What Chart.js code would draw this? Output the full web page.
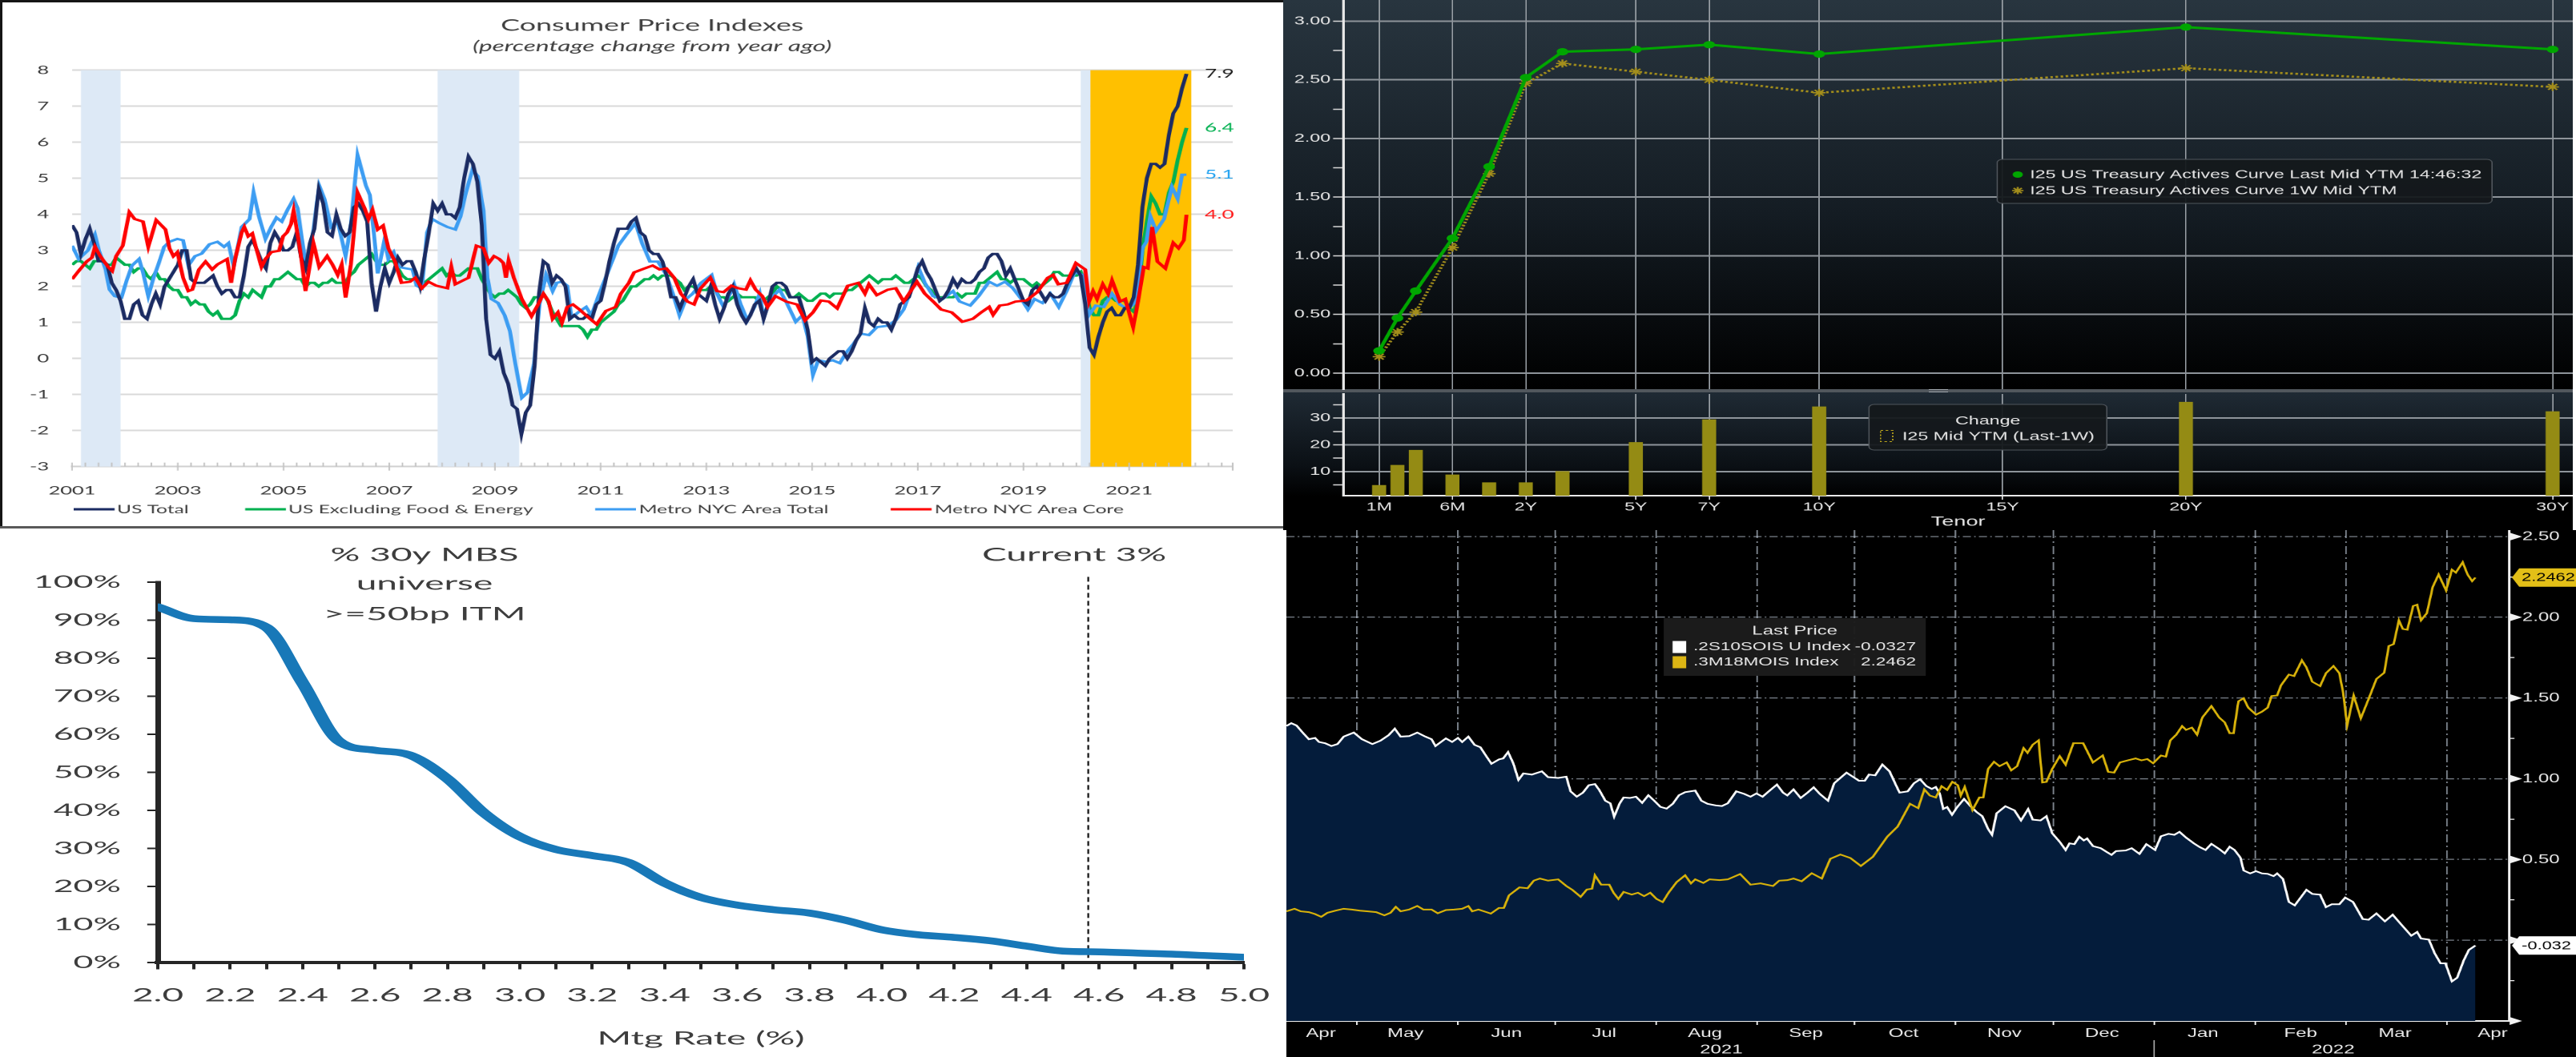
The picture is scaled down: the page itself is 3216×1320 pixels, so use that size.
<!DOCTYPE html>
<html>
<head>
<meta charset="utf-8">
<title>Inflation and rates</title>
<script src="https://cdn.jsdelivr.net/npm/chart.js@4.4.1/dist/chart.umd.min.js"></script>
<style>
  html, body { margin: 0; padding: 0; }
  body { width: 3216px; height: 1320px; position: relative; overflow: hidden; background: #fff; }
  .panel { position: absolute; overflow: hidden; }
  .panel canvas { position: absolute; display: block; }
  .bar { position: absolute; }
</style>
</head>
<body>

<!-- top left: CPI -->
<div class="panel" style="left:0;top:0;width:1602px;height:660px;background:#fff;">
  <canvas id="cpiChart" width="915" height="660" style="left:0;top:0;width:1602px;height:660px;"></canvas>
  <div class="bar" style="left:0;top:0;width:1602px;height:3px;background:#151515"></div>
  <div class="bar" style="left:0;top:0;width:3px;height:660px;background:#151515"></div>
  <div class="bar" style="left:0;top:657px;width:1602px;height:3px;background:#5a5a5a"></div>
</div>

<!-- top right: treasury curve -->
<div class="panel" style="left:1602px;top:0;width:1610px;height:662px;background:#000;">
  <div class="bar" style="left:0;top:0;width:1610px;height:486px;background:linear-gradient(#28353f 0%, #141c23 55%, #000 100%)"></div>
  <div class="bar" style="left:0;top:486px;width:1610px;height:4px;background:#51575d"></div>
  <div class="bar" style="left:806px;top:486px;width:24px;height:4px;border-top:1px solid #a0a6ac;border-bottom:1px solid #a0a6ac;box-sizing:border-box"></div>
  <div class="bar" style="left:0;top:490px;width:1610px;height:130px;background:linear-gradient(#1f2a34 0%, #0b1015 70%, #000 100%)"></div>
  <canvas id="curveChart" width="1006" height="488" style="left:0;top:0;width:1610px;height:488px;"></canvas>
  <canvas id="changeChart" width="1006" height="172" style="left:0;top:490px;width:1610px;height:172px;"></canvas>
</div>
<div class="bar" style="left:3212px;top:0;width:4px;height:662px;background:#fff"></div>

<!-- bottom left: MBS -->
<div class="panel" style="left:0;top:662px;width:1606px;height:658px;background:#fff;">
  <canvas id="mbsChart" width="803" height="658" style="left:0;top:0;width:1606px;height:658px;"></canvas>
</div>

<!-- bottom right: OIS -->
<div class="panel" style="left:1606px;top:662px;width:1610px;height:658px;background:#000;">
  <canvas id="oisChart" width="1073" height="658" style="left:0;top:0;width:1610px;height:658px;"></canvas>
</div>

<script>
// ---------------- data: CPI (percentage change from year ago) ----------------
// months counted from Jan 2001 (= 0)
const cpiYearLabels = [2001, 2003, 2005, 2007, 2009, 2011, 2013, 2015, 2017, 2019, 2021];
const cpiValueTicks = [-3, -2, -1, 0, 1, 2, 3, 4, 5, 6, 7, 8];

const usTotal = [
  3.7, 3.5, 2.9, 3.3, 3.6, 3.2, 2.7, 2.7, 2.6, 2.1, 1.9, 1.6,
  1.1, 1.1, 1.5, 1.6, 1.2, 1.1, 1.5, 1.8, 1.5, 2.0, 2.2, 2.4,
  2.6, 3.0, 3.0, 2.2, 2.1, 2.1, 2.1, 2.2, 2.3, 2.0, 1.8, 1.9,
  1.9, 1.7, 1.7, 2.3, 3.1, 3.3, 3.0, 2.7, 2.5, 3.2, 3.5, 3.3,
  3.0, 3.0, 3.1, 3.5, 2.8, 2.5, 3.2, 3.6, 4.7, 4.3, 3.5, 3.4,
  4.0, 3.6, 3.4, 3.5, 4.2, 4.3, 4.1, 3.8, 2.1, 1.3, 2.0, 2.5,
  2.1, 2.4, 2.8, 2.6, 2.7, 2.7, 2.4, 2.0, 2.8, 3.5, 4.3, 4.1,
  4.3, 4.0, 4.0, 3.9, 4.2, 5.0, 5.6, 5.4, 4.9, 3.7, 1.1, 0.1,
  0.0, 0.2, -0.4, -0.7, -1.3, -1.4, -2.1, -1.5, -1.3, -0.2, 1.8, 2.7,
  2.6, 2.1, 2.3, 2.2, 2.0, 1.1, 1.2, 1.1, 1.1, 1.2, 1.1, 1.5,
  1.6, 2.1, 2.7, 3.2, 3.6, 3.6, 3.6, 3.8, 3.9, 3.5, 3.4, 3.0,
  2.9, 2.9, 2.7, 2.3, 1.7, 1.7, 1.4, 1.7, 2.0, 2.2, 1.8, 1.7,
  1.6, 2.0, 1.5, 1.1, 1.4, 1.8, 2.0, 1.5, 1.2, 1.0, 1.2, 1.5,
  1.6, 1.1, 1.5, 2.0, 2.1, 2.1, 2.0, 1.7, 1.7, 1.7, 1.3, 0.8,
  -0.1, 0.0, -0.1, -0.2, 0.0, 0.1, 0.2, 0.2, 0.0, 0.2, 0.5, 0.7,
  1.4, 1.0, 0.9, 1.1, 1.0, 1.0, 0.8, 1.1, 1.5, 1.6, 1.7, 2.1,
  2.5, 2.7, 2.4, 2.2, 1.9, 1.6, 1.7, 1.9, 2.2, 2.0, 2.2, 2.1,
  2.1, 2.2, 2.4, 2.5, 2.8, 2.9, 2.9, 2.7, 2.3, 2.5, 2.2, 1.9,
  1.6, 1.5, 1.9, 2.0, 1.8, 1.6, 1.8, 1.7, 1.7, 1.8, 2.1, 2.3,
  2.5, 2.3, 1.5, 0.3, 0.1, 0.6, 1.0, 1.3, 1.4, 1.2, 1.2, 1.4,
  1.4, 1.7, 2.6, 4.2, 5.0, 5.4, 5.4, 5.3, 5.4, 6.2, 6.8, 7.0,
  7.5, 7.9
];

const usCore = [
  2.6, 2.7, 2.7, 2.6, 2.5, 2.7, 2.7, 2.7, 2.6, 2.6, 2.8, 2.7,
  2.6, 2.6, 2.4, 2.5, 2.5, 2.3, 2.2, 2.4, 2.2, 2.2, 2.0, 1.9,
  1.9, 1.7, 1.7, 1.5, 1.6, 1.5, 1.5, 1.3, 1.2, 1.3, 1.1, 1.1,
  1.1, 1.2, 1.6, 1.8, 1.7, 1.9, 1.8, 1.7, 2.0, 2.0, 2.2, 2.2,
  2.3, 2.4, 2.3, 2.2, 2.2, 2.0, 2.1, 2.1, 2.0, 2.1, 2.1, 2.2,
  2.1, 2.1, 2.1, 2.3, 2.4, 2.6, 2.7, 2.8, 2.9, 2.7, 2.6, 2.6,
  2.7, 2.7, 2.5, 2.3, 2.2, 2.2, 2.2, 2.1, 2.1, 2.2, 2.3, 2.4,
  2.5, 2.3, 2.4, 2.3, 2.3, 2.4, 2.5, 2.5, 2.5, 2.2, 2.0, 1.8,
  1.7, 1.8, 1.8, 1.9, 1.8, 1.7, 1.5, 1.4, 1.5, 1.7, 1.7, 1.8,
  1.6, 1.3, 1.1, 0.9, 0.9, 0.9, 0.9, 0.9, 0.8, 0.6, 0.8, 0.8,
  1.0, 1.1, 1.2, 1.3, 1.5, 1.6, 1.8, 2.0, 2.0, 2.1, 2.2, 2.2,
  2.3, 2.2, 2.3, 2.3, 2.3, 2.2, 2.1, 1.9, 2.0, 2.0, 1.9, 1.9,
  1.9, 2.0, 1.9, 1.7, 1.7, 1.6, 1.7, 1.8, 1.7, 1.7, 1.7, 1.7,
  1.6, 1.6, 1.7, 1.8, 2.0, 1.9, 1.9, 1.7, 1.7, 1.8, 1.7, 1.6,
  1.6, 1.7, 1.8, 1.8, 1.7, 1.8, 1.8, 1.8, 1.9, 1.9, 2.0, 2.1,
  2.2, 2.3, 2.2, 2.1, 2.2, 2.2, 2.2, 2.3, 2.2, 2.1, 2.1, 2.2,
  2.3, 2.2, 2.0, 1.9, 1.7, 1.7, 1.7, 1.7, 1.7, 1.8, 1.7, 1.8,
  1.8, 1.8, 2.1, 2.1, 2.2, 2.3, 2.4, 2.2, 2.2, 2.1, 2.2, 2.2,
  2.2, 2.1, 2.0, 2.1, 2.0, 2.1, 2.2, 2.4, 2.4, 2.3, 2.3, 2.3,
  2.3, 2.4, 2.1, 1.4, 1.2, 1.2, 1.6, 1.7, 1.7, 1.6, 1.6, 1.6,
  1.4, 1.3, 1.6, 3.0, 3.8, 4.5, 4.3, 4.0, 4.0, 4.6, 4.9, 5.5,
  6.0, 6.4
];

// [month, value]
const nycTotal = [
  [0,3.13],[1.5,2.76],[3.6,3.0],[5.2,3.43],[6.1,3.0],[7.6,2.47],[8.5,1.91],[9.7,1.73],[11.2,1.69],[12.4,2.17],
  [13.6,2.58],[15.2,2.76],[16.1,2.39],[17.3,1.73],[18.5,2.24],[19.7,2.65],[20.9,3.1],[22.1,3.24],[23.9,3.32],[25.2,3.28],
  [26.4,2.58],[27.9,2.84],[29.4,2.91],[31.2,3.17],[33,3.24],[34.5,3.1],[35.5,3.2],[36.7,2.54],[38.5,3.65],[40.3,3.87],
  [41.2,4.61],[42.4,3.95],[43.9,3.32],[45.2,3.65],[46.4,3.91],[47.6,3.8],[48.8,4.1],[50.3,4.43],[51.2,4.17],[52.4,3.13],
  [53.3,2.47],[54.8,3.58],[56.1,4.8],[57.3,4.43],[58.8,3.65],[60.3,3.8],[62.1,2.84],[63.3,3.73],[64.8,5.65],[66.7,4.8],
  [67.6,4.54],[68.5,3.5],[69.4,2.36],[70.9,3.28],[71.8,2.76],[73,2.95],[74.2,2.54],[75.8,2.5],[77.3,2.47],[78.2,2.02],
  [79.4,1.95],[80.6,3.5],[81.8,3.87],[83.3,3.76],[85.2,3.65],[87,3.58],[88.2,3.95],[89.4,4.6],[90.9,5.24],[92.1,5.06],
  [93.4,4.1],[94.3,2.24],[95.2,1.65],[96.7,1.54],[98.2,1.2],[99.4,0.76],[100.6,-0.13],[102.1,-1.09],[103.4,-0.94],[104.9,-0.13],
  [106.1,1.5],[107.6,2.32],[109.1,1.87],[110,2.1],[111.2,2.13],[112.4,2.02],[113.4,1.13],[114.9,1.28],[116.7,1.43],[117.9,1.2],
  [119.7,1.8],[122.1,2.54],[124,3.13],[125.8,3.43],[127.9,3.76],[129.4,3.2],[131.2,2.69],[133,2.69],[134.9,2.32],[136.4,1.8],
  [137.9,1.2],[139.4,1.65],[140.9,1.8],[142.8,2.1],[145.2,2.32],[146.4,1.8],[147.9,1.43],[149.4,1.8],[150.3,2.06],[151.8,1.5],
  [153.3,1.06],[154.9,1.43],[156.1,1.8],[157,1.13],[158.5,1.65],[160.6,1.91],[162.1,1.58],[164.3,1.02],[165.8,1.2],[167,0.61],
  [168.2,-0.46],[169.4,-0.05],[171.2,-0.09],[172.7,-0.05],[174.3,-0.13],[175.8,0.17],[177.3,0.39],[179.1,0.69],[180.9,0.65],[182.7,0.87],
  [185.2,0.91],[187,1.06],[188.8,1.36],[190.6,1.95],[192.1,2.54],[193.6,2.1],[195.5,1.73],[197.6,1.65],[200,1.87],[201.5,1.58],
  [203.9,1.47],[205.8,1.73],[208.2,2.13],[210,2.02],[211.8,2.13],[213.6,1.95],[215.5,1.65],[217,1.36],[218.5,1.65],[220.3,1.54],
  [222.1,1.8],[224,1.43],[225.8,1.87],[227.6,2.39],[229.4,2.32],[230.9,1.21],[232.4,1.47],[234.2,1.43],[236.1,1.8],[237.9,1.5],
  [239.7,1.36],[241.5,1.58],[243,3.06],[243.9,3.24],[244.8,3.95],[246.1,3.54],[247.9,3.87],[249.7,4.76],[251,4.43],[252,5.1],
  [253,5.1]
];

const nycCore = [
  [0,2.2],[1.5,2.43],[3.3,2.69],[4.5,2.8],[5.2,3.1],[6.4,2.84],[8.2,2.54],[9.1,2.43],[10,2.84],[11.5,3.13],
  [13,4.06],[14.2,3.87],[16.1,3.8],[17.3,3.1],[19.1,3.84],[21.2,3.58],[22.1,3.06],[23,2.84],[23.9,2.95],[25.2,2.24],
  [26.4,1.87],[27.3,1.91],[28.8,2.47],[30.3,2.69],[31.8,2.47],[33,2.61],[35.2,2.76],[36.1,2.1],[37,2.76],[38.5,3.5],
  [39.1,3.65],[40,3.39],[40.9,3.47],[41.8,3.06],[43,2.54],[43.9,2.76],[45.2,2.95],[47,2.99],[47.9,3.39],[48.8,3.5],
  [49.7,3.73],[50.3,4.1],[51.8,2.99],[53,1.87],[53.9,2.54],[54.8,3.2],[56.1,2.54],[57.9,2.84],[59.1,2.61],[60.3,2.32],
  [61.2,2.61],[62.1,1.69],[63.3,2.61],[64.8,4.61],[66.4,4.17],[67.3,3.87],[68.2,4.13],[69.4,3.58],[70.6,3.69],[71.8,3.06],
  [73.3,2.69],[74.8,2.1],[76.7,2.13],[77.9,2.24],[79.4,1.95],[80.9,2.13],[82.7,2.02],[85.2,1.95],[86.1,2.54],[87,2.06],
  [88.8,2.17],[90,2.24],[91.8,3.13],[93.4,3.06],[94.6,2.65],[95.8,2.84],[97,2.76],[97.9,2.65],[98.5,2.24],[99.1,2.72],
  [100.3,2.24],[102.1,1.65],[104.3,1.17],[105.8,1.5],[107,1.8],[108.2,1.58],[109.1,1.1],[110.3,1.28],[111.2,0.99],[112.4,1.43],
  [113.7,1.5],[115.2,1.36],[117.3,1.13],[119.1,0.95],[121.2,1.32],[123.4,1.43],[124.6,1.8],[126.4,2.1],[127.6,2.39],[130,2.5],
  [131.8,2.58],[133.4,2.47],[134.9,2.5],[136.7,2.24],[138.2,1.8],[139.7,1.58],[141.2,1.5],[142.7,1.95],[144.9,2.24],[146.4,1.87],
  [147.9,1.84],[149.7,2.02],[151.2,1.95],[153,1.91],[154,2.17],[155.2,1.91],[156.7,1.73],[157.9,1.43],[159.7,1.73],[162.1,1.58],
  [164.6,1.5],[166.4,1.06],[168.2,1.28],[170,1.61],[171.8,1.58],[173.7,1.39],[176.1,2.02],[178.5,2.1],[180,1.8],[180.9,2.06],
  [182.7,1.76],[185.2,1.91],[187,1.95],[188.8,1.58],[191.8,2.13],[193.6,1.8],[195.5,1.58],[197.3,1.36],[199.7,1.28],[202.1,1.02],
  [204.5,1.1],[206.4,1.28],[208.2,1.43],[209.1,1.21],[210.6,1.47],[212.4,1.5],[214.2,1.58],[216.7,1.61],[219.1,1.84],[221.5,2.24],
  [222.7,2.32],[223.9,2.06],[225.8,2.1],[227.9,2.65],[230,2.47],[230.9,1.58],[231.8,1.87],[232.7,1.65],[234,2.06],[235.2,1.8],
  [236.1,2.17],[237.9,1.58],[239.1,1.65],[240.9,0.87],[242.1,1.65],[243.3,2.54],[244.2,2.5],[245.2,3.65],[246.4,2.69],[248.2,2.5],
  [250,3.21],[251.2,3.06],[252.4,3.28],[253,3.99]
];

// shaded periods, in months from Jan 2001
const recessionMonths = [[2, 11], [83, 101.5], [229, 231.2]];
const pandemicBand = [231.2, 254.1];

// ---------------- data: treasury actives curve ----------------
const tenorLabels = ['1M', '2M', '3M', '6M', '1Y', '2Y', '3Y', '5Y', '7Y', '10Y', '20Y', '30Y'];
const tenorAxisPos = [0, 0.5, 1, 2, 3, 4, 5, 7, 9, 12, 22, 32];
const ytmLast = [0.19, 0.47, 0.70, 1.15, 1.76, 2.52, 2.74, 2.76, 2.80, 2.72, 2.95, 2.76];
const ytm1W = [0.14, 0.35, 0.52, 1.07, 1.70, 2.47, 2.64, 2.57, 2.50, 2.39, 2.60, 2.44];
const ytmChangeBp = [4.9, 12.4, 18.0, 8.8, 5.9, 5.9, 10.1, 20.9, 29.4, 34.2, 35.9, 32.4];
const tenorGridLabels = ['1M', '6M', '2Y', '5Y', '7Y', '10Y', '15Y', '20Y', '30Y'];
const tenorGridPos = [0, 2, 4, 7, 9, 12, 17, 22, 32];
const curveYTicks = [0, 0.25, 0.5, 0.75, 1, 1.25, 1.5, 1.75, 2, 2.25, 2.5, 2.75, 3];
const changeYTicks = [5, 10, 15, 20, 25, 30, 35];

// ---------------- data: MBS universe in the money ----------------
const mbsRates = [2.0, 2.1, 2.2, 2.3, 2.4, 2.5, 2.6, 2.7, 2.8, 2.9, 3.0, 3.1, 3.2, 3.3, 3.4, 3.5,
                  3.6, 3.7, 3.8, 3.9, 4.0, 4.1, 4.2, 4.3, 4.4, 4.5, 4.6, 4.7, 4.8, 4.9, 5.0];
const mbsInTheMoney = [93.5, 90.4, 90.1, 88.1, 73.5, 58.2, 55.8, 54.4, 48.3, 39.4, 33.1, 29.7, 28.1, 26.3, 20.9, 17.1,
                       15.1, 13.9, 13.0, 11.1, 8.6, 7.3, 6.6, 5.7, 4.3, 3.0, 2.8, 2.5, 2.2, 1.8, 1.4];
const mbsYTicks = [0, 10, 20, 30, 40, 50, 60, 70, 80, 90, 100];
const currentRateMark = 4.57;

// ---------------- data: OIS spreads (days from 1 Apr 2021) ----------------
const oisMonthStarts = [30, 61, 91, 122, 153, 183, 214, 244, 275, 306, 334, 365];
const oisMonthLabelDays = [19, 45, 76, 106, 137, 168, 198, 229, 259, 290, 320, 349, 379];
const oisMonthLabels = ['Apr', 'May', 'Jun', 'Jul', 'Aug', 'Sep', 'Oct', 'Nov', 'Dec', 'Jan', 'Feb', 'Mar', 'Apr'];
const oisYearLabelDays = [142, 330];
const oisYearLabels = ['2021', '2022'];
const oisYTicks = [-0.5, -0.25, 0, 0.25, 0.5, 0.75, 1, 1.25, 1.5, 1.75, 2, 2.25, 2.5];

const ois2s10s = [
  [8.4,1.327],[9.9,1.344],[11.5,1.33],[13.4,1.286],[15.3,1.245],[17.2,1.253],[18.4,1.228],[20.3,1.22],[22.2,1.203],[24.1,1.215],
  [26.0,1.261],[29.1,1.286],[31.6,1.245],[34.8,1.215],[37.3,1.236],[39.8,1.27],[41.7,1.31],[43.5,1.261],[46.1,1.264],[48.6,1.286],
  [51.1,1.261],[53.0,1.245],[54.2,1.203],[57.4,1.25],[59.3,1.228],[61.1,1.253],[62.4,1.228],[64.3,1.261],[66.2,1.21],[68.0,1.195],
  [69.9,1.137],[71.4,1.093],[73.7,1.12],[75.0,1.126],[76.5,1.165],[78.1,1.096],[79.7,0.993],[81.2,1.033],[83.8,1.026],[86.9,1.046],
  [88.8,1.01],[91.9,1.005],[94.4,1.013],[95.7,0.922],[97.6,0.889],[99.5,0.914],[101.3,0.96],[103.2,0.967],[104.5,0.931],[106.4,0.864],
  [107.9,0.848],[109.1,0.765],[110.8,0.848],[112.0,0.884],[113.9,0.881],[115.8,0.889],[117.7,0.851],[119.6,0.898],[121.4,0.864],[123.3,0.826],
  [125.2,0.815],[127.1,0.845],[129.0,0.898],[130.9,0.917],[134.0,0.927],[135.9,0.864],[137.8,0.845],[140.3,0.835],[142.2,0.831],[144.0,0.848],
  [146.6,0.922],[149.1,0.906],[151.0,0.889],[152.8,0.909],[154.7,0.889],[156.6,0.922],[159.1,0.964],[161.0,0.914],[162.3,0.897],[164.2,0.934],
  [166.4,0.881],[168.5,0.914],[170.4,0.947],[172.3,0.906],[174.8,0.864],[176.7,0.972],[178.6,1.005],[180.5,1.038],[182.4,1.013],[184.3,0.988],
  [186.1,0.988],[187.4,1.026],[189.3,1.021],[191.5,1.088],[193.7,1.046],[195.6,0.964],[196.8,0.914],[199.3,0.922],[201.2,0.972],[203.1,0.997],
  [205.0,0.955],[206.7,0.937],[207.9,0.949],[209.1,0.91],[210.2,0.813],[211.4,0.825],[212.9,0.777],[214.4,0.822],[216.6,0.875],[218.6,0.83],
  [220.4,0.795],[222.2,0.768],[224.0,0.689],[225.2,0.653],[226.6,0.786],[229.3,0.83],[232.1,0.804],[234.1,0.742],[236.3,0.813],[237.7,0.747],
  [240.1,0.742],[241.9,0.768],[243.7,0.662],[246.0,0.609],[247.8,0.559],[249.0,0.6],[250.5,0.595],[252.0,0.641],[253.4,0.618],[254.4,0.63],
  [256.2,0.583],[258.6,0.57],[260.4,0.547],[261.9,0.529],[263.3,0.552],[266.3,0.556],[268.1,0.57],[270.5,0.535],[272.6,0.595],[275.3,0.559],
  [277.1,0.644],[279.4,0.659],[281.2,0.653],[282.8,0.671],[284.8,0.636],[287.2,0.6],[289.0,0.577],[290.8,0.559],[292.6,0.597],[295.0,0.565],
  [296.7,0.538],[298.2,0.579],[299.7,0.559],[301.5,0.512],[302.5,0.432],[304.5,0.414],[306.3,0.428],[308.1,0.414],[309.9,0.411],[311.7,0.397],
  [312.8,0.414],[314.6,0.379],[316.4,0.237],[318.2,0.216],[320.0,0.264],[321.8,0.312],[323.6,0.287],[326.0,0.282],[327.8,0.205],[329.6,0.223],
  [331.9,0.223],[333.7,0.264],[336.1,0.237],[339.1,0.131],[340.9,0.127],[343.3,0.166],[345.9,0.117],[348.3,0.158],[351.0,0.096],[354.0,0.028],
  [355.8,0.051],[357.0,0.011],[359.4,0.004],[361.2,-0.081],[363.0,-0.143],[364.5,-0.143],[366.5,-0.255],[368.1,-0.232],[370.1,-0.126],[371.7,-0.06],
  [373.7,-0.0327]
];

const ois3m18m = [
  [8.4,0.179],[10.9,0.195],[12.8,0.179],[15.3,0.174],[17.2,0.162],[19.1,0.145],[21.0,0.17],[23.4,0.183],[26.0,0.195],[28.5,0.19],
  [31.0,0.183],[33.5,0.179],[36.0,0.174],[38.5,0.154],[40.4,0.17],[42.0,0.207],[43.5,0.179],[46.1,0.19],[48.6,0.212],[50.5,0.19],
  [53.0,0.19],[54.9,0.167],[57.4,0.187],[59.9,0.19],[62.4,0.195],[64.3,0.212],[65.5,0.179],[67.4,0.19],[69.9,0.174],[71.2,0.165],
  [73.7,0.2],[75.2,0.2],[76.8,0.278],[80.0,0.327],[82.5,0.322],[84.4,0.369],[86.3,0.382],[88.8,0.369],[91.9,0.377],[94.4,0.336],
  [96.3,0.311],[98.8,0.269],[100.7,0.314],[102.3,0.319],[103.2,0.402],[105.1,0.344],[107.6,0.344],[108.9,0.294],[110.4,0.256],[112.0,0.299],
  [114.5,0.283],[116.4,0.294],[118.3,0.273],[120.2,0.294],[122.1,0.256],[124.0,0.236],[125.8,0.294],[128.3,0.36],[130.9,0.402],[132.7,0.352],
  [134.0,0.377],[136.5,0.355],[138.4,0.377],[141.5,0.372],[144.0,0.377],[147.8,0.41],[151.0,0.344],[154.1,0.352],[157.9,0.336],[159.8,0.369],
  [162.3,0.372],[164.2,0.382],[166.7,0.365],[169.8,0.415],[172.9,0.382],[175.5,0.504],[178.6,0.531],[181.7,0.509],[184.9,0.46],[188.6,0.517],
  [193.0,0.641],[196.2,0.704],[200.0,0.845],[202.5,0.818],[204.4,0.934],[206.1,0.896],[207.9,0.884],[209.7,0.954],[211.4,0.931],[213.0,0.981],
  [214.7,0.96],[215.6,0.896],[216.8,0.949],[219.2,0.807],[221.3,0.884],[222.5,0.884],[224.0,1.061],[225.8,1.105],[227.5,1.078],[229.7,1.101],
  [231.1,1.052],[232.9,1.078],[234.9,1.19],[236.1,1.161],[237.7,1.211],[239.5,1.238],[240.7,0.977],[241.9,0.981],[243.7,1.061],[246.0,1.14],
  [247.8,1.087],[250.2,1.22],[253.2,1.22],[256.2,1.101],[259.2,1.144],[260.9,1.043],[262.7,1.038],[264.5,1.101],[266.9,1.114],[269.3,1.126],
  [271.1,1.114],[272.9,1.122],[274.7,1.096],[277.1,1.144],[278.6,1.137],[280.0,1.238],[281.8,1.273],[283.6,1.326],[284.8,1.303],[286.6,1.317],
  [288.2,1.273],[289.8,1.379],[292.6,1.45],[295.0,1.379],[296.7,1.349],[298.2,1.282],[299.4,1.282],[300.9,1.48],[302.5,1.498],[303.9,1.441],
  [306.3,1.397],[308.1,1.415],[309.9,1.441],[311.1,1.512],[312.8,1.516],[314.0,1.579],[316.4,1.645],[318.0,1.636],[320.4,1.733],[321.8,1.689],
  [323.6,1.601],[326.0,1.574],[327.8,1.654],[330.1,1.698],[331.9,1.654],[333.1,1.53],[334.3,1.331],[336.3,1.516],[338.5,1.374],[340.9,1.494],
  [343.3,1.618],[345.7,1.657],[347.1,1.822],[348.6,1.834],[350.2,1.981],[351.4,1.928],[352.8,1.923],[354.6,2.07],[355.8,2.078],[357.0,1.981],
  [358.8,2.026],[360.6,2.188],[362.4,2.265],[364.7,2.167],[366.5,2.295],[367.7,2.277],[369.8,2.341],[371.3,2.265],[372.7,2.224],[373.7,2.2462]
];

// ---------------- helpers ----------------
const OFFICE_FONT = 'Lato, "Open Sans", sans-serif';
const TERM_FONT = '"Liberation Sans", Arial, sans-serif';

// pin an axis to a fixed thickness and drop the label overhang padding
function fixedSize(size) {
  return (ax) => {
    if (ax.isHorizontal()) ax.height = size; else ax.width = size;
    ax.paddingLeft = ax.paddingRight = ax.paddingTop = ax.paddingBottom = 0;
  };
}
const useTicks = (values) => (ax) => { ax.ticks = values.map(v => ({ value: v })); };
const isHalf = (v) => Math.abs(v * 2 - Math.round(v * 2)) < 1e-9;
const toPoints = (pairs) => pairs.map(([x, y]) => ({ x, y }));
const pad = (left, right, top, bottom) => ({ autoPadding: false, padding: { left, right, top, bottom } });

const baseOptions = {
  responsive: false,
  animation: false,
  devicePixelRatio: 2,
  events: [],
};
const quietPlugins = { legend: { display: false }, tooltip: { enabled: false } };

// ---------------- chart 1: CPI ----------------
const cpiDecor = {
  id: 'cpiDecor',
  beforeDatasetsDraw(chart) {
    const { ctx, chartArea: a, scales: { x } } = chart;
    ctx.save();
    ctx.fillStyle = '#dde9f6';
    recessionMonths.forEach(([s, e]) => {
      const x1 = x.getPixelForValue(s), x2 = x.getPixelForValue(e);
      ctx.fillRect(x1, a.top, x2 - x1, a.bottom - a.top);
    });
    ctx.fillStyle = '#ffc000';
    const p1 = x.getPixelForValue(pandemicBand[0]), p2 = x.getPixelForValue(pandemicBand[1]);
    ctx.fillRect(p1, a.top, p2 - p1, a.bottom - a.top);
    ctx.restore();
  },
  afterDraw(chart) {
    const { ctx, chartArea: a, scales: { x, y } } = chart;
    ctx.save();
    // axis tick marks: quarterly minor, biennial major
    ctx.strokeStyle = '#c4c4c4';
    ctx.lineWidth = 1.1;
    for (let m = 0; m <= 263; m += 3) {
      const px = x.getPixelForValue(m);
      const major = m % 24 === 0;
      ctx.beginPath();
      ctx.moveTo(px, a.bottom - 5);
      ctx.lineTo(px, a.bottom + (major ? 5 : 0));
      ctx.stroke();
    }
    ctx.beginPath();
    ctx.moveTo(a.right, a.bottom - 5);
    ctx.lineTo(a.right, a.bottom + 5);
    ctx.stroke();

    // end-of-series values
    ctx.font = `15px ${OFFICE_FONT}`;
    ctx.textBaseline = 'middle';
    ctx.textAlign = 'left';
    chart.data.datasets.forEach(ds => {
      const last = ds.data[ds.data.length - 1];
      ctx.fillStyle = ds.valueColor;
      ctx.fillText(last.y.toFixed(1), 859, y.getPixelForValue(last.y));
    });

    // titles
    ctx.textAlign = 'center';
    ctx.fillStyle = '#3f3f3f';
    ctx.font = `20.5px ${OFFICE_FONT}`;
    ctx.fillText('Consumer Price Indexes', 465, 32);
    ctx.font = `italic 18px ${OFFICE_FONT}`;
    ctx.fillText('(percentage change from year ago)', 465, 58);

    // legend
    const legendX = [[52.5, 81.7, 83.4], [174.8, 203.9, 205.6], [424.4, 453.5, 455.6], [635.1, 664.3, 666.4]];
    ctx.font = `14px ${OFFICE_FONT}`;
    ctx.textAlign = 'left';
    chart.data.datasets.forEach((ds, i) => {
      const [l1, l2, tx] = legendX[i];
      ctx.strokeStyle = ds.borderColor;
      ctx.lineWidth = 3;
      ctx.beginPath();
      ctx.moveTo(l1, 636);
      ctx.lineTo(l2, 636);
      ctx.stroke();
      ctx.fillStyle = '#404040';
      ctx.fillText(ds.label, tx, 636.5);
    });
    ctx.restore();
  }
};

new Chart(document.getElementById('cpiChart'), {
  type: 'line',
  data: {
    datasets: [
      { label: 'US Total', data: usTotal.map((v, i) => ({ x: i, y: v })), borderColor: '#1b2b62', valueColor: '#1a1a1a', order: 2 },
      { label: 'US Excluding Food & Energy', data: usCore.map((v, i) => ({ x: i, y: v })), borderColor: '#00b050', valueColor: '#00b050', order: 4 },
      { label: 'Metro NYC Area Total', data: toPoints(nycTotal), borderColor: '#3d9df2', valueColor: '#1ea0f0', order: 3 },
      { label: 'Metro NYC Area Core', data: toPoints(nycCore), borderColor: '#ff0000', valueColor: '#ff1a1a', order: 1 },
    ]
  },
  options: {
    ...baseOptions,
    layout: pad(0, 36, 87.7, 37.3),
    elements: { point: { radius: 0 }, line: { borderWidth: 2.8, tension: 0 } },
    plugins: quietPlugins,
    scales: {
      x: {
        type: 'linear', min: 0, max: 263.5,
        afterBuildTicks: useTicks(cpiYearLabels.map(yr => (yr - 2001) * 12)),
        afterFit: fixedSize(40),
        ticks: { callback: v => String(2001 + v / 12), color: '#3a3a3a', font: { family: OFFICE_FONT, size: 14.5 }, padding: 13.5, maxRotation: 0, autoSkip: false },
        grid: { display: false },
        border: { display: true, color: '#d0d0d0', width: 2 }
      },
      y: {
        min: -3, max: 8,
        afterBuildTicks: useTicks(cpiValueTicks),
        afterFit: fixedSize(51.4),
        ticks: { color: '#3a3a3a', font: { family: OFFICE_FONT, size: 14.5 }, padding: 16.5 },
        grid: { color: '#d9d9d9', lineWidth: 2, drawTicks: false },
        border: { display: false }
      }
    }
  },
  plugins: [cpiDecor]
});

// ---------------- chart 2: treasury curve + change bars ----------------
function drawStar(ctx, cx, cy, r) {
  ctx.beginPath();
  for (let k = 0; k < 4; k++) {
    const ang = k * Math.PI / 4;
    ctx.moveTo(cx - Math.cos(ang) * r, cy - Math.sin(ang) * r);
    ctx.lineTo(cx + Math.cos(ang) * r, cy + Math.sin(ang) * r);
  }
  ctx.stroke();
}

const curveLegend = {
  id: 'curveLegend',
  afterDraw(chart) {
    const { ctx } = chart;
    const ds = chart.data.datasets;
    ctx.save();
    ctx.beginPath();
    ctx.roundRect(557, 199, 386, 55, 4);
    ctx.fillStyle = 'rgba(20,24,28,0.94)';
    ctx.fill();
    ctx.strokeStyle = '#50565c';
    ctx.lineWidth = 1;
    ctx.stroke();
    ctx.fillStyle = ds[0].borderColor;
    ctx.beginPath();
    ctx.arc(573, 218, 4, 0, Math.PI * 2);
    ctx.fill();
    ctx.strokeStyle = ds[1].borderColor;
    ctx.lineWidth = 1.5;
    drawStar(ctx, 573, 238, 4.5);
    ctx.font = `14.5px ${TERM_FONT}`;
    ctx.fillStyle = '#e8e8e8';
    ctx.textBaseline = 'middle';
    ctx.fillText(ds[0].label, 582.5, 218.5);
    ctx.fillText(ds[1].label, 582.5, 238.5);
    ctx.restore();
  }
};

const terminalAxisText = { color: '#e6e6e6', font: { family: TERM_FONT, size: 14.5 } };

new Chart(document.getElementById('curveChart'), {
  type: 'line',
  data: {
    datasets: [
      {
        label: 'I25 US Treasury Actives Curve Last Mid YTM 14:46:32',
        data: tenorAxisPos.map((x, i) => ({ x, y: ytmLast[i] })),
        borderColor: '#00a600', backgroundColor: '#00a600', borderWidth: 3,
        pointRadius: 4.6, pointBorderWidth: 0, pointBackgroundColor: '#00a600', order: 0
      },
      {
        label: 'I25 US Treasury Actives Curve 1W Mid YTM',
        data: tenorAxisPos.map((x, i) => ({ x, y: ytm1W[i] })),
        borderColor: '#a38e1c', borderWidth: 2.6, borderDash: [2, 2],
        pointStyle: 'star', pointRadius: 5, pointBorderColor: '#a38e1c', pointBorderWidth: 1.6, order: 1
      }
    ]
  },
  options: {
    ...baseOptions,
    layout: pad(0, 0, 0, 2),
    elements: { line: { tension: 0 } },
    plugins: quietPlugins,
    scales: {
      x: {
        type: 'linear', min: -0.976, max: 32.55,
        afterBuildTicks: useTicks(tenorGridPos),
        afterFit: fixedSize(0),
        ticks: { display: false },
        grid: { color: '#9aa0a6', lineWidth: 1, drawTicks: false },
        border: { display: false }
      },
      y: {
        min: -0.137, max: 3.181,
        afterBuildTicks: useTicks(curveYTicks),
        afterFit: fixedSize(46.9),
        ticks: { ...terminalAxisText, padding: 2, callback: v => isHalf(v) ? v.toFixed(2) : '' },
        grid: {
          color: c => isHalf(c.tick.value) ? '#8e949a' : 'rgba(0,0,0,0)',
          lineWidth: 2, tickLength: 8, tickColor: '#d6d6d6', tickWidth: 1.5
        },
        border: { color: '#e8e8e8', width: 2 }
      }
    }
  },
  plugins: [curveLegend]
});

const changeLegend = {
  id: 'changeLegend',
  afterDraw(chart) {
    const { ctx } = chart;
    const ds = chart.data.datasets[0];
    ctx.save();
    ctx.beginPath();
    ctx.roundRect(457, 15, 185.5, 57, 4);
    ctx.fillStyle = 'rgba(20,24,28,0.94)';
    ctx.fill();
    ctx.strokeStyle = '#50565c';
    ctx.lineWidth = 1;
    ctx.stroke();
    ctx.font = `14.5px ${TERM_FONT}`;
    ctx.fillStyle = '#e8e8e8';
    ctx.textBaseline = 'middle';
    ctx.textAlign = 'center';
    ctx.fillText('Change', 549.7, 36);
    ctx.textAlign = 'left';
    ctx.fillText(ds.label, 483, 55.5);
    ctx.setLineDash([2, 2]);
    ctx.strokeStyle = '#b8a21c';
    ctx.strokeRect(466, 47.5, 9.5, 14);
    ctx.restore();
  }
};

new Chart(document.getElementById('changeChart'), {
  type: 'bar',
  data: {
    datasets: [{
      label: 'I25 Mid YTM (Last-1W)',
      data: tenorAxisPos.map((x, i) => ({ x, y: ytmChangeBp[i] })),
      backgroundColor: '#948b14', borderWidth: 0, barThickness: 10.3
    }]
  },
  options: {
    ...baseOptions,
    layout: pad(0, 0, 2, 0),
    plugins: quietPlugins,
    scales: {
      x: {
        type: 'linear', min: -0.976, max: 32.55, offset: false,
        afterBuildTicks: useTicks(tenorGridPos),
        afterFit: fixedSize(43),
        ticks: { ...terminalAxisText, padding: 1, maxRotation: 0, autoSkip: false, callback: (v, i) => tenorGridLabels[i] },
        grid: { offset: false, color: '#9aa0a6', lineWidth: 1, tickLength: 5, tickColor: '#e0e0e0' },
        border: { color: '#e8e8e8', width: 2 },
        title: { display: true, text: 'Tenor', color: '#e6e6e6', font: { family: TERM_FONT, size: 17 }, padding: { top: 0, bottom: 0 } }
      },
      y: {
        min: 1.04, max: 38.96,
        afterBuildTicks: useTicks(changeYTicks),
        afterFit: fixedSize(46.9),
        ticks: { ...terminalAxisText, padding: 2, callback: v => v % 10 === 0 ? String(v) : '' },
        grid: {
          color: c => c.tick.value % 10 === 0 ? '#8e949a' : 'rgba(0,0,0,0)',
          lineWidth: 2, tickLength: 8, tickColor: '#d6d6d6', tickWidth: 1.5
        },
        border: { color: '#e8e8e8', width: 2 }
      }
    }
  },
  plugins: [changeLegend]
});

// ---------------- chart 3: MBS refinanceable share ----------------
const mbsNotes = {
  id: 'mbsNotes',
  beforeDatasetsDraw(chart) {
    const { ctx, scales: { x, y } } = chart;
    const px = x.getPixelForValue(currentRateMark);
    ctx.save();
    ctx.strokeStyle = '#222';
    ctx.lineWidth = 1.2;
    ctx.setLineDash([6, 4]);
    ctx.beginPath();
    ctx.moveTo(px, y.getPixelForValue(101.4));
    ctx.lineTo(px, y.getPixelForValue(1.2));
    ctx.stroke();
    ctx.restore();
  },
  afterDraw(chart) {
    const { ctx } = chart;
    ctx.save();
    ctx.font = `23px ${OFFICE_FONT}`;
    ctx.fillStyle = '#3d3d3d';
    ctx.textAlign = 'center';
    ctx.textBaseline = 'middle';
    ctx.fillText('% 30y MBS', 265, 31);
    ctx.fillText('universe', 265, 67);
    ctx.fillText('>=50bp ITM', 265, 105);
    ctx.fillText('Current 3%', 670.5, 31);
    ctx.restore();
  }
};

new Chart(document.getElementById('mbsChart'), {
  type: 'line',
  data: {
    datasets: [{
      label: '% 30y MBS universe >=50bp ITM',
      data: mbsRates.map((r, i) => ({ x: r, y: mbsInTheMoney[i] })),
      borderColor: '#1878b8', borderWidth: 8.5, pointRadius: 0,
      cubicInterpolationMode: 'monotone', borderCapStyle: 'round', borderJoinStyle: 'round'
    }]
  },
  options: {
    ...baseOptions,
    layout: pad(0, 26.5, 65, 0),
    plugins: quietPlugins,
    scales: {
      x: {
        type: 'linear', min: 2.0, max: 5.0,
        afterBuildTicks: useTicks(mbsRates),
        afterFit: fixedSize(118),
        ticks: {
          color: '#3d3d3d', font: { family: OFFICE_FONT, size: 23 }, padding: 18.7, maxRotation: 0, autoSkip: false,
          callback: (v, i) => i % 2 === 0 ? v.toFixed(1) : ''
        },
        grid: { drawOnChartArea: false, tickLength: 8.5, tickColor: '#262626', tickWidth: 2 },
        border: { color: '#262626', width: 4 },
        title: { display: true, text: 'Mtg Rate (%)', color: '#3d3d3d', font: { family: OFFICE_FONT, size: 23 }, padding: { top: 0, bottom: 9.2 } }
      },
      y: {
        min: 0, max: 100,
        afterBuildTicks: useTicks(mbsYTicks),
        afterFit: fixedSize(98.5),
        ticks: { color: '#3d3d3d', font: { family: OFFICE_FONT, size: 21.5 }, padding: 16.4, callback: v => v + '%' },
        grid: { drawOnChartArea: false, tickLength: 6.6, tickColor: '#262626', tickWidth: 2 },
        border: { color: '#262626', width: 3.5 }
      }
    }
  },
  plugins: [mbsNotes]
});

// ---------------- chart 4: OIS spreads ----------------
const oisDecor = {
  id: 'oisDecor',
  afterDraw(chart) {
    const { ctx, chartArea: a, scales: { x, y } } = chart;
    const ds = chart.data.datasets;
    ctx.save();

    // month and year rows under the axis
    ctx.fillStyle = '#ececec';
    ctx.font = `16px ${TERM_FONT}`;
    ctx.textAlign = 'center';
    ctx.textBaseline = 'middle';
    oisMonthLabelDays.forEach((d, i) => ctx.fillText(oisMonthLabels[i], x.getPixelForValue(d), a.bottom + 15.5));
    oisYearLabelDays.forEach((d, i) => ctx.fillText(oisYearLabels[i], x.getPixelForValue(d), a.bottom + 36));
    const jan = x.getPixelForValue(oisMonthStarts[8]);
    ctx.strokeStyle = '#a8a8a8';
    ctx.lineWidth = 1.2;
    ctx.beginPath();
    ctx.moveTo(jan, a.bottom + 24);
    ctx.lineTo(jan, a.bottom + 45);
    ctx.stroke();

    // right axis flags at major ticks
    ctx.fillStyle = '#f2f2f2';
    oisYTicks.filter(isHalf).forEach(v => {
      const py = y.getPixelForValue(v);
      ctx.beginPath();
      ctx.moveTo(a.right, py - 5);
      ctx.lineTo(a.right + 10.5, py);
      ctx.lineTo(a.right, py + 5);
      ctx.closePath();
      ctx.fill();
    });

    // last-value tags
    const tag = (value, text, fill) => {
      const py = y.getPixelForValue(value);
      ctx.fillStyle = fill;
      ctx.beginPath();
      ctx.moveTo(a.right + 2, py);
      ctx.lineTo(a.right + 8, py - 11.5);
      ctx.lineTo(1073, py - 11.5);
      ctx.lineTo(1073, py + 11.5);
      ctx.lineTo(a.right + 8, py + 11.5);
      ctx.closePath();
      ctx.fill();
      ctx.fillStyle = '#000';
      ctx.font = `14.5px ${TERM_FONT}`;
      ctx.textAlign = 'left';
      ctx.textBaseline = 'middle';
      ctx.fillText(text, 1027.8, py + 0.5);
    };
    const lastWhite = ds[1].data[ds[1].data.length - 1].y;
    const lastGold = ds[0].data[ds[0].data.length - 1].y;
    tag(lastGold, lastGold.toFixed(4), '#e3bf17');
    tag(lastWhite, lastWhite.toFixed(4).slice(0, -1), '#ffffff');

    // legend box
    ctx.fillStyle = 'rgba(28,28,28,0.96)';
    ctx.fillRect(314, 110, 218, 72);
    ctx.fillStyle = '#e8e8e8';
    ctx.textBaseline = 'middle';
    ctx.textAlign = 'center';
    ctx.font = `16px ${TERM_FONT}`;
    ctx.fillText('Last Price', 423, 126);
    ctx.font = `15px ${TERM_FONT}`;
    [[ds[1], 146], [ds[0], 165]].forEach(([d, py]) => {
      ctx.fillStyle = d.swatch;
      ctx.fillRect(321.3, py - 7.5, 11.3, 15);
      ctx.fillStyle = '#e8e8e8';
      ctx.textAlign = 'left';
      ctx.fillText(d.label, 338.6, py);
      ctx.textAlign = 'right';
      ctx.fillText(d.data[d.data.length - 1].y.toFixed(4), 523.8, py);
    });
    ctx.restore();
  }
};

const oisGrid = 'rgba(205,216,232,0.6)';
const oisText = { color: '#ececec', font: { family: TERM_FONT, size: 16 } };

new Chart(document.getElementById('oisChart'), {
  type: 'line',
  data: {
    datasets: [
      {
        label: '.3M18MOIS Index', data: toPoints(ois3m18m),
        borderColor: '#d8b20a', borderWidth: 2, swatch: '#dcb514', order: 0
      },
      {
        label: '.2S10SOIS U Index', data: toPoints(ois2s10s),
        borderColor: '#ffffff', borderWidth: 2, swatch: '#ffffff',
        fill: 'start', backgroundColor: '#041c3b', order: 1
      }
    ]
  },
  options: {
    ...baseOptions,
    layout: pad(0, 0, 0, 0),
    elements: { point: { radius: 0 }, line: { tension: 0 } },
    plugins: quietPlugins,
    scales: {
      x: {
        type: 'linear', min: 8.4, max: 384.2, z: 1,
        afterBuildTicks: useTicks(oisMonthStarts),
        afterFit: fixedSize(45),
        ticks: { display: false },
        grid: { color: oisGrid, lineWidth: 1.3, tickLength: 5, tickColor: '#f0f0f0' },
        border: { color: '#f0f0f0', width: 2, dash: [10, 4, 2, 4] }
      },
      y: {
        position: 'right', min: -0.5, max: 2.54, z: 1,
        afterBuildTicks: useTicks(oisYTicks),
        afterFit: fixedSize(55.3),
        ticks: { ...oisText, padding: 6.6, callback: v => (isHalf(v) && v >= 0.5) ? v.toFixed(2) : '' },
        grid: {
          color: c => isHalf(c.tick.value) ? oisGrid : 'rgba(0,0,0,0)',
          lineWidth: 1.3, tickLength: 4, tickColor: '#f0f0f0'
        },
        border: { color: '#f0f0f0', width: 2, dash: [6.7, 2.7, 1.3, 2.7] }
      }
    }
  },
  plugins: [oisDecor]
});
</script>
</body>
</html>
